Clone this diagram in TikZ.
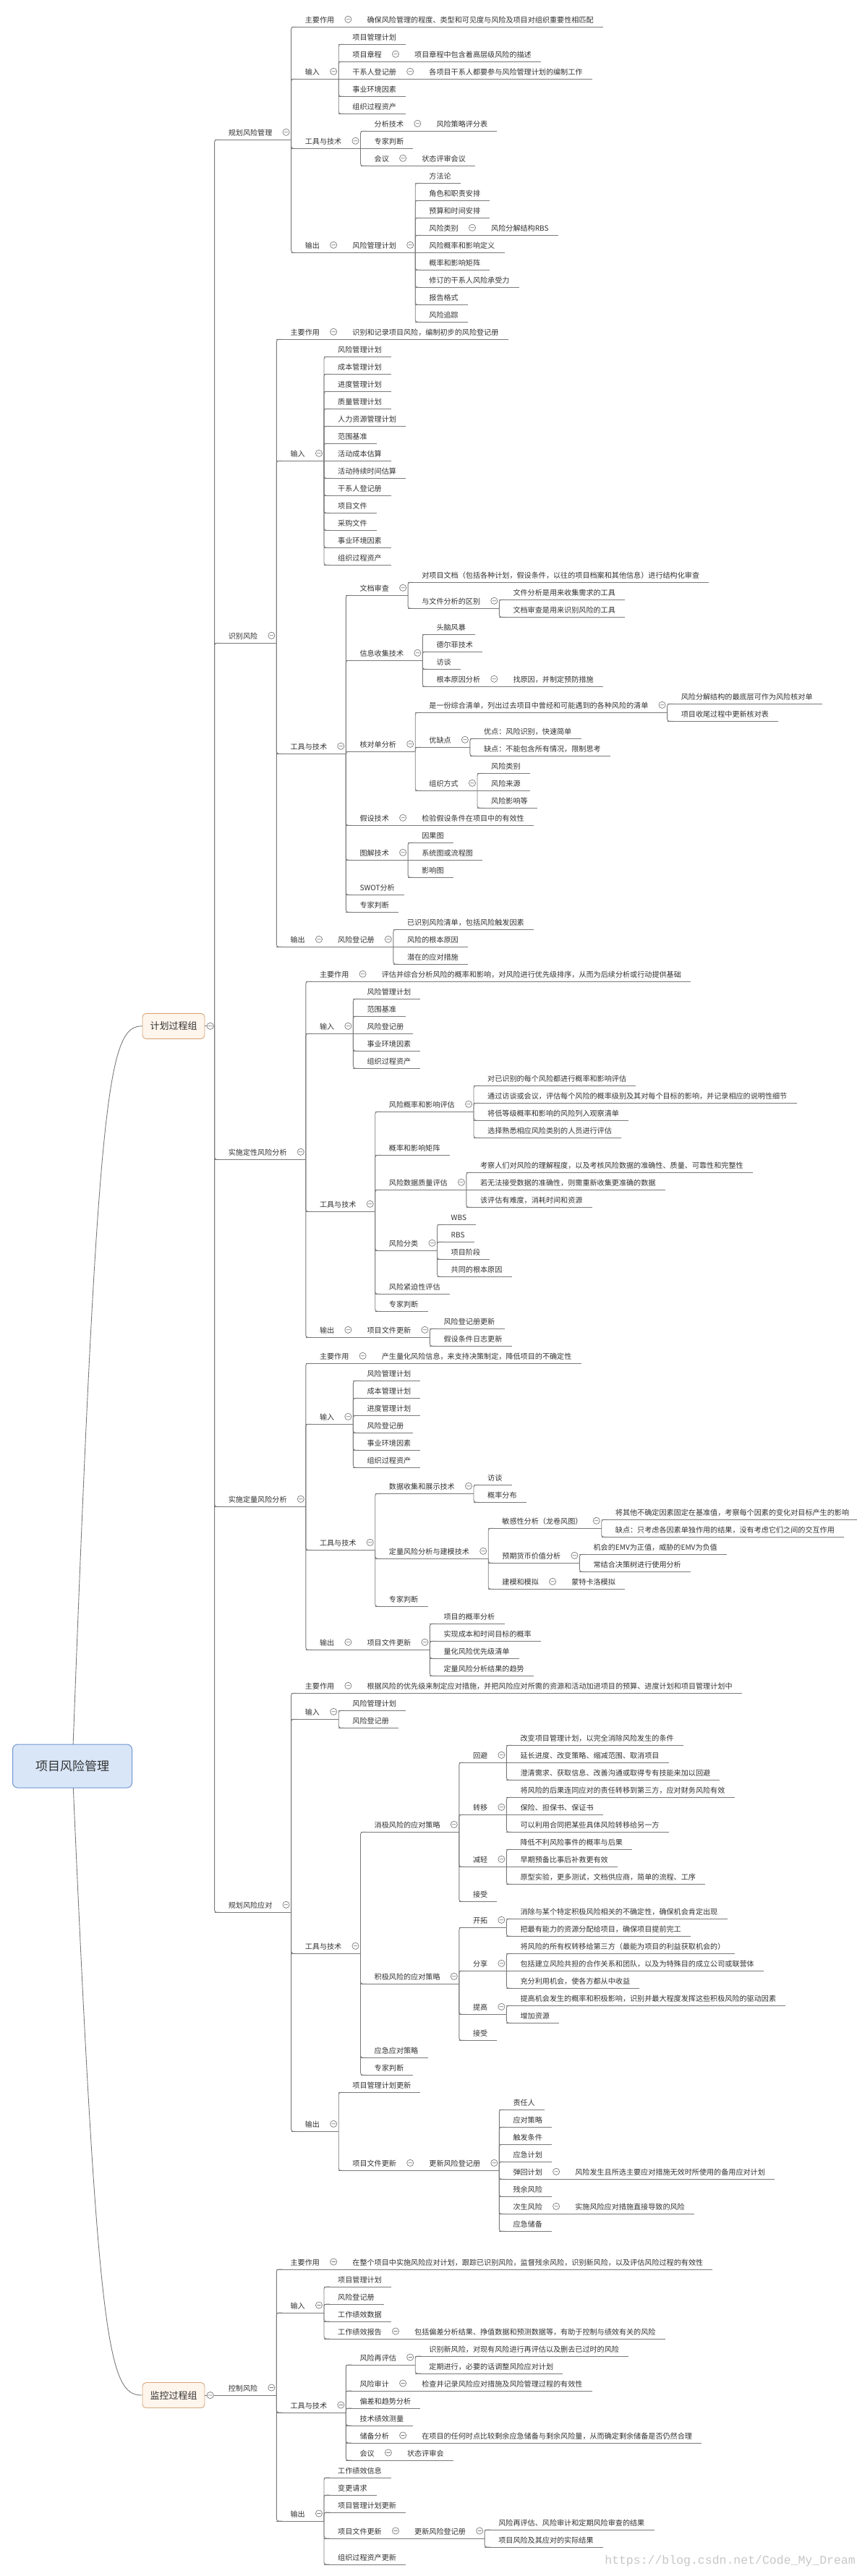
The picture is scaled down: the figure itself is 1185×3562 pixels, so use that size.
\documentclass[tikz,border=0pt]{standalone}
\usepackage{fontspec}
\setmainfont{Noto Sans CJK SC}
\newfontfamily\wmfont{Liberation Mono}
\definecolor{lc}{HTML}{7A7A7A}
\definecolor{tc}{HTML}{333333}
\definecolor{rootfill}{HTML}{D9E6F8}
\definecolor{rootdraw}{HTML}{6F95D0}
\definecolor{grpfill}{HTML}{FEF5EC}
\definecolor{grpdraw}{HTML}{D9A77A}
\tikzset{
  txt/.style={inner sep=0pt,anchor=base west,text=tc,font=\fontsize{10.1pt}{12pt}\selectfont},
  ln/.style={draw=lc,line width=0.9pt},
  circ/.style={draw=lc,fill=white,line width=0.7pt},
  grp/.style={draw=grpdraw,fill=grpfill,rounded corners=5pt,line width=0.9pt,minimum width=86pt,minimum height=35pt,inner sep=0pt,text=tc,font=\fontsize{13pt}{15pt}\selectfont},
  rootbox/.style={draw=rootdraw,fill=rootfill,rounded corners=7pt,line width=1pt,minimum width=165pt,minimum height=60pt,inner sep=0pt,text=tc,font=\fontsize{17pt}{20pt}\selectfont}
}
\newcommand\nd[5]{%
  \pgfmathsetmacro\myU{\ybase+24*(#4)}%
  \expandafter\xdef\csname U@#2\endcsname{\myU}%
  \coordinate (#2-l) at (#3-r |- 0,\myU);
  \node[txt] (#2) at ([shift={(19,-6)}]#2-l) {#5};
  \if p#1
    \path (#2.east |- #2-l) ++(26,0) coordinate (#2-r);
  \else
    \path (#2.east |- #2-l) ++(13,0) coordinate (#2-r);
  \fi
  \draw[ln] (#2-l) -- (#2-r);
  \ifdim\csname U@#3\endcsname pt=\myU pt\relax\else
    \draw[ln,rounded corners=3pt] (#3-r) |- ([xshift=8pt]#2-l);
  \fi
  \if p#1
    \draw[circ] ([shift={(-7,-10.5)}]#2-r) circle[radius=4.6pt] +(-2.6pt,0pt) -- +(2.6pt,0pt);
  \fi
}
\newcommand\grpminus[1]{\draw[circ] (#1) circle[radius=4.6pt] +(-2.6pt,0pt) -- +(2.6pt,0pt);}
\begin{document}
\begin{tikzpicture}[x=1pt,y=-1pt]
\fill[white] (0,0) rectangle (1185,3562);
\useasboundingbox (0,0) rectangle (1185,3562);

% group boxes and root
\node[grp] (gA) at (240,1418.8) {计划过程组};
\node[grp] (gB) at (240,3312) {监控过程组};
\coordinate (grpA-r) at (296.6,1418.8);
\coordinate (grpB-r) at (296.6,3312);
\expandafter\gdef\csname U@grpA\endcsname{1418.8}
\expandafter\gdef\csname U@grpB\endcsname{3312.0}
\draw[ln] (gA.east) -- (grpA-r);
\draw[ln] (gB.east) -- (grpB-r);
\coordinate (rootc) at (100,2442);
\draw[ln] (rootc) .. controls (135,1500) and (150,1418.8) .. (gA.west);
\draw[ln] (rootc) .. controls (135,3250) and (150,3312) .. (gB.west);
\node[rootbox] (root) at (rootc) {项目风险管理};
\grpminus{290.7,1418.8}
\grpminus{290.7,3312}

\def\ybase{37.3}
% ---------- 规划风险管理
\nd{p}{a1}{grpA}{6.5}{规划风险管理}
\nd{p}{a1m}{a1}{0}{主要作用}
\nd{l}{a1m1}{a1m}{0}{确保风险管理的程度、类型和可见度与风险及项目对组织重要性相匹配}
\nd{p}{a1i}{a1}{3}{输入}
\nd{l}{a1i1}{a1i}{1}{项目管理计划}
\nd{p}{a1i2}{a1i}{2}{项目章程}
\nd{l}{a1i2a}{a1i2}{2}{项目章程中包含着高层级风险的描述}
\nd{p}{a1i3}{a1i}{3}{干系人登记册}
\nd{l}{a1i3a}{a1i3}{3}{各项目干系人都要参与风险管理计划的编制工作}
\nd{l}{a1i4}{a1i}{4}{事业环境因素}
\nd{l}{a1i5}{a1i}{5}{组织过程资产}
\nd{p}{a1t}{a1}{7}{工具与技术}
\nd{p}{a1t1}{a1t}{6}{分析技术}
\nd{l}{a1t1a}{a1t1}{6}{风险策略评分表}
\nd{l}{a1t2}{a1t}{7}{专家判断}
\nd{p}{a1t3}{a1t}{8}{会议}
\nd{l}{a1t3a}{a1t3}{8}{状态评审会议}
\nd{p}{a1o}{a1}{13}{输出}
\nd{p}{a1o1}{a1o}{13}{风险管理计划}
\nd{l}{a1o1a}{a1o1}{9}{方法论}
\nd{l}{a1o1b}{a1o1}{10}{角色和职责安排}
\nd{l}{a1o1c}{a1o1}{11}{预算和时间安排}
\nd{p}{a1o1d}{a1o1}{12}{风险类别}
\nd{l}{a1o1dd}{a1o1d}{12}{风险分解结构RBS}
\nd{l}{a1o1e}{a1o1}{13}{风险概率和影响定义}
\nd{l}{a1o1f}{a1o1}{14}{概率和影响矩阵}
\nd{l}{a1o1g}{a1o1}{15}{修订的干系人风险承受力}
\nd{l}{a1o1h}{a1o1}{16}{报告格式}
\nd{l}{a1o1i}{a1o1}{17}{风险追踪}
% ---------- 识别风险
\nd{p}{a2}{grpA}{35.5}{识别风险}
\nd{p}{a2m}{a2}{18}{主要作用}
\nd{l}{a2m1}{a2m}{18}{识别和记录项目风险，编制初步的风险登记册}
\nd{p}{a2i}{a2}{25}{输入}
\nd{l}{a2i1}{a2i}{19}{风险管理计划}
\nd{l}{a2i2}{a2i}{20}{成本管理计划}
\nd{l}{a2i3}{a2i}{21}{进度管理计划}
\nd{l}{a2i4}{a2i}{22}{质量管理计划}
\nd{l}{a2i5}{a2i}{23}{人力资源管理计划}
\nd{l}{a2i6}{a2i}{24}{范围基准}
\nd{l}{a2i7}{a2i}{25}{活动成本估算}
\nd{l}{a2i8}{a2i}{26}{活动持续时间估算}
\nd{l}{a2i9}{a2i}{27}{干系人登记册}
\nd{l}{a2i10}{a2i}{28}{项目文件}
\nd{l}{a2i11}{a2i}{29}{采购文件}
\nd{l}{a2i12}{a2i}{30}{事业环境因素}
\nd{l}{a2i13}{a2i}{31}{组织过程资产}
\nd{p}{a2t}{a2}{41.875}{工具与技术}
\nd{p}{a2t1}{a2t}{32.75}{文档审查}
\nd{l}{a2t1a}{a2t1}{32}{对项目文档（包括各种计划，假设条件，以往的项目档案和其他信息）进行结构化审查}
\nd{p}{a2t1b}{a2t1}{33.5}{与文件分析的区别}
\nd{l}{a2t1b1}{a2t1b}{33}{文件分析是用来收集需求的工具}
\nd{l}{a2t1b2}{a2t1b}{34}{文档审查是用来识别风险的工具}
\nd{p}{a2t2}{a2t}{36.5}{信息收集技术}
\nd{l}{a2t2a}{a2t2}{35}{头脑风暴}
\nd{l}{a2t2b}{a2t2}{36}{德尔菲技术}
\nd{l}{a2t2c}{a2t2}{37}{访谈}
\nd{p}{a2t2d}{a2t2}{38}{根本原因分析}
\nd{l}{a2t2dd}{a2t2d}{38}{找原因，并制定预防措施}
\nd{p}{a2t3}{a2t}{41.75}{核对单分析}
\nd{p}{a2t3a}{a2t3}{39.5}{是一份综合清单，列出过去项目中曾经和可能遇到的各种风险的清单}
\nd{l}{a2t3a1}{a2t3a}{39}{风险分解结构的最底层可作为风险核对单}
\nd{l}{a2t3a2}{a2t3a}{40}{项目收尾过程中更新核对表}
\nd{p}{a2t3b}{a2t3}{41.5}{优缺点}
\nd{l}{a2t3b1}{a2t3b}{41}{优点：风险识别，快速简单}
\nd{l}{a2t3b2}{a2t3b}{42}{缺点：不能包含所有情况，限制思考}
\nd{p}{a2t3c}{a2t3}{44}{组织方式}
\nd{l}{a2t3c1}{a2t3c}{43}{风险类别}
\nd{l}{a2t3c2}{a2t3c}{44}{风险来源}
\nd{l}{a2t3c3}{a2t3c}{45}{风险影响等}
\nd{p}{a2t4}{a2t}{46}{假设技术}
\nd{l}{a2t4a}{a2t4}{46}{检验假设条件在项目中的有效性}
\nd{p}{a2t5}{a2t}{48}{图解技术}
\nd{l}{a2t5a}{a2t5}{47}{因果图}
\nd{l}{a2t5b}{a2t5}{48}{系统图或流程图}
\nd{l}{a2t5c}{a2t5}{49}{影响图}
\nd{l}{a2t6}{a2t}{50}{SWOT分析}
\nd{l}{a2t7}{a2t}{51}{专家判断}
\nd{p}{a2o}{a2}{53}{输出}
\nd{p}{a2o1}{a2o}{53}{风险登记册}
\nd{l}{a2o1a}{a2o1}{52}{已识别风险清单，包括风险触发因素}
\nd{l}{a2o1b}{a2o1}{53}{风险的根本原因}
\nd{l}{a2o1c}{a2o1}{54}{潜在的应对措施}
% ---------- 实施定性风险分析
\nd{p}{a3}{grpA}{65.25}{实施定性风险分析}
\nd{p}{a3m}{a3}{55}{主要作用}
\nd{l}{a3m1}{a3m}{55}{评估并综合分析风险的概率和影响，对风险进行优先级排序，从而为后续分析或行动提供基础}
\nd{p}{a3i}{a3}{58}{输入}
\nd{l}{a3i1}{a3i}{56}{风险管理计划}
\nd{l}{a3i2}{a3i}{57}{范围基准}
\nd{l}{a3i3}{a3i}{58}{风险登记册}
\nd{l}{a3i4}{a3i}{59}{事业环境因素}
\nd{l}{a3i5}{a3i}{60}{组织过程资产}
\nd{p}{a3t}{a3}{68.25}{工具与技术}
\nd{p}{a3t1}{a3t}{62.5}{风险概率和影响评估}
\nd{l}{a3t1a}{a3t1}{61}{对已识别的每个风险都进行概率和影响评估}
\nd{l}{a3t1b}{a3t1}{62}{通过访谈或会议，评估每个风险的概率级别及其对每个目标的影响，并记录相应的说明性细节}
\nd{l}{a3t1c}{a3t1}{63}{将低等级概率和影响的风险列入观察清单}
\nd{l}{a3t1d}{a3t1}{64}{选择熟悉相应风险类别的人员进行评估}
\nd{l}{a3t2}{a3t}{65}{概率和影响矩阵}
\nd{p}{a3t3}{a3t}{67}{风险数据质量评估}
\nd{l}{a3t3a}{a3t3}{66}{考察人们对风险的理解程度，以及考核风险数据的准确性、质量、可靠性和完整性}
\nd{l}{a3t3b}{a3t3}{67}{若无法接受数据的准确性，则需重新收集更准确的数据}
\nd{l}{a3t3c}{a3t3}{68}{该评估有难度，消耗时间和资源}
\nd{p}{a3t4}{a3t}{70.5}{风险分类}
\nd{l}{a3t4a}{a3t4}{69}{WBS}
\nd{l}{a3t4b}{a3t4}{70}{RBS}
\nd{l}{a3t4c}{a3t4}{71}{项目阶段}
\nd{l}{a3t4d}{a3t4}{72}{共同的根本原因}
\nd{l}{a3t5}{a3t}{73}{风险紧迫性评估}
\nd{l}{a3t6}{a3t}{74}{专家判断}
\nd{p}{a3o}{a3}{75.5}{输出}
\nd{p}{a3o1}{a3o}{75.5}{项目文件更新}
\nd{l}{a3o1a}{a3o1}{75}{风险登记册更新}
\nd{l}{a3o1b}{a3o1}{76}{假设条件日志更新}
% ---------- 实施定量风险分析
\nd{p}{a4}{grpA}{85.25}{实施定量风险分析}
\nd{p}{a4m}{a4}{77}{主要作用}
\nd{l}{a4m1}{a4m}{77}{产生量化风险信息，来支持决策制定，降低项目的不确定性}
\nd{p}{a4i}{a4}{80.5}{输入}
\nd{l}{a4i1}{a4i}{78}{风险管理计划}
\nd{l}{a4i2}{a4i}{79}{成本管理计划}
\nd{l}{a4i3}{a4i}{80}{进度管理计划}
\nd{l}{a4i4}{a4i}{81}{风险登记册}
\nd{l}{a4i5}{a4i}{82}{事业环境因素}
\nd{l}{a4i6}{a4i}{83}{组织过程资产}
\nd{p}{a4t}{a4}{87.75}{工具与技术}
\nd{p}{a4t1}{a4t}{84.5}{数据收集和展示技术}
\nd{l}{a4t1a}{a4t1}{84}{访谈}
\nd{l}{a4t1b}{a4t1}{85}{概率分布}
\nd{p}{a4t2}{a4t}{88.25}{定量风险分析与建模技术}
\nd{p}{a4t2a}{a4t2}{86.5}{敏感性分析（龙卷风图）}
\nd{l}{a4t2a1}{a4t2a}{86}{将其他不确定因素固定在基准值，考察每个因素的变化对目标产生的影响}
\nd{l}{a4t2a2}{a4t2a}{87}{缺点：只考虑各因素单独作用的结果，没有考虑它们之间的交互作用}
\nd{p}{a4t2b}{a4t2}{88.5}{预期货币价值分析}
\nd{l}{a4t2b1}{a4t2b}{88}{机会的EMV为正值，威胁的EMV为负值}
\nd{l}{a4t2b2}{a4t2b}{89}{常结合决策树进行使用分析}
\nd{p}{a4t2c}{a4t2}{90}{建模和模拟}
\nd{l}{a4t2c1}{a4t2c}{90}{蒙特卡洛模拟}
\nd{l}{a4t3}{a4t}{91}{专家判断}
\nd{p}{a4o}{a4}{93.5}{输出}
\nd{p}{a4o1}{a4o}{93.5}{项目文件更新}
\nd{l}{a4o1a}{a4o1}{92}{项目的概率分析}
\nd{l}{a4o1b}{a4o1}{93}{实现成本和时间目标的概率}
\nd{l}{a4o1c}{a4o1}{94}{量化风险优先级清单}
\nd{l}{a4o1d}{a4o1}{95}{定量风险分析结果的趋势}
% ---------- 规划风险应对
\nd{p}{a5}{grpA}{108.625}{规划风险应对}
\nd{p}{a5m}{a5}{96}{主要作用}
\nd{l}{a5m1}{a5m}{96}{根据风险的优先级来制定应对措施，并把风险应对所需的资源和活动加进项目的预算、进度计划和项目管理计划中}
\nd{p}{a5i}{a5}{97.5}{输入}
\nd{l}{a5i1}{a5i}{97}{风险管理计划}
\nd{l}{a5i2}{a5i}{98}{风险登记册}
\nd{p}{a5t}{a5}{111}{工具与技术}
\nd{p}{a5t1}{a5t}{104}{消极风险的应对策略}
\nd{p}{a5t1a}{a5t1}{100}{回避}
\nd{l}{a5t1a1}{a5t1a}{99}{改变项目管理计划，以完全消除风险发生的条件}
\nd{l}{a5t1a2}{a5t1a}{100}{延长进度、改变策略、缩减范围、取消项目}
\nd{l}{a5t1a3}{a5t1a}{101}{澄清需求、获取信息、改善沟通或取得专有技能来加以回避}
\nd{p}{a5t1b}{a5t1}{103}{转移}
\nd{l}{a5t1b1}{a5t1b}{102}{将风险的后果连同应对的责任转移到第三方，应对财务风险有效}
\nd{l}{a5t1b2}{a5t1b}{103}{保险、担保书、保证书}
\nd{l}{a5t1b3}{a5t1b}{104}{可以利用合同把某些具体风险转移给另一方}
\nd{p}{a5t1c}{a5t1}{106}{减轻}
\nd{l}{a5t1c1}{a5t1c}{105}{降低不利风险事件的概率与后果}
\nd{l}{a5t1c2}{a5t1c}{106}{早期预备比事后补救更有效}
\nd{l}{a5t1c3}{a5t1c}{107}{原型实验，更多测试，文档供应商，简单的流程、工序}
\nd{l}{a5t1d}{a5t1}{108}{接受}
\nd{p}{a5t2}{a5t}{112.75}{积极风险的应对策略}
\nd{p}{a5t2a}{a5t2}{109.5}{开拓}
\nd{l}{a5t2a1}{a5t2a}{109}{消除与某个特定积极风险相关的不确定性，确保机会肯定出现}
\nd{l}{a5t2a2}{a5t2a}{110}{把最有能力的资源分配给项目，确保项目提前完工}
\nd{p}{a5t2b}{a5t2}{112}{分享}
\nd{l}{a5t2b1}{a5t2b}{111}{将风险的所有权转移给第三方（最能为项目的利益获取机会的）}
\nd{l}{a5t2b2}{a5t2b}{112}{包括建立风险共担的合作关系和团队，以及为特殊目的成立公司或联营体}
\nd{l}{a5t2b3}{a5t2b}{113}{充分利用机会，使各方都从中收益}
\nd{p}{a5t2c}{a5t2}{114.5}{提高}
\nd{l}{a5t2c1}{a5t2c}{114}{提高机会发生的概率和积极影响，识别并最大程度发挥这些积极风险的驱动因素}
\nd{l}{a5t2c2}{a5t2c}{115}{增加资源}
\nd{l}{a5t2d}{a5t2}{116}{接受}
\nd{l}{a5t3}{a5t}{117}{应急应对策略}
\nd{l}{a5t4}{a5t}{118}{专家判断}
\nd{p}{a5o}{a5}{121.25}{输出}
\nd{l}{a5o1}{a5o}{119}{项目管理计划更新}
\nd{p}{a5o2}{a5o}{123.5}{项目文件更新}
\nd{p}{a5o2a}{a5o2}{123.5}{更新风险登记册}
\nd{l}{a5o2a1}{a5o2a}{120}{责任人}
\nd{l}{a5o2a2}{a5o2a}{121}{应对策略}
\nd{l}{a5o2a3}{a5o2a}{122}{触发条件}
\nd{l}{a5o2a4}{a5o2a}{123}{应急计划}
\nd{p}{a5o2a5}{a5o2a}{124}{弹回计划}
\nd{l}{a5o2a5x}{a5o2a5}{124}{风险发生且所选主要应对措施无效时所使用的备用应对计划}
\nd{l}{a5o2a6}{a5o2a}{125}{残余风险}
\nd{p}{a5o2a7}{a5o2a}{126}{次生风险}
\nd{l}{a5o2a7x}{a5o2a7}{126}{实施风险应对措施直接导致的风险}
\nd{l}{a5o2a8}{a5o2a}{127}{应急储备}

% ---------- 控制风险
\def\ybase{3138}
\nd{p}{b1}{grpB}{7.25}{控制风险}
\nd{p}{b1m}{b1}{0}{主要作用}
\nd{l}{b1m1}{b1m}{0}{在整个项目中实施风险应对计划，跟踪已识别风险，监督残余风险，识别新风险，以及评估风险过程的有效性}
\nd{p}{b1i}{b1}{2.5}{输入}
\nd{l}{b1i1}{b1i}{1}{项目管理计划}
\nd{l}{b1i2}{b1i}{2}{风险登记册}
\nd{l}{b1i3}{b1i}{3}{工作绩效数据}
\nd{p}{b1i4}{b1i}{4}{工作绩效报告}
\nd{l}{b1i4a}{b1i4}{4}{包括偏差分析结果、挣值数据和预测数据等，有助于控制与绩效有关的风险}
\nd{p}{b1t}{b1}{8.25}{工具与技术}
\nd{p}{b1t1}{b1t}{5.5}{风险再评估}
\nd{l}{b1t1a}{b1t1}{5}{识别新风险，对现有风险进行再评估以及删去已过时的风险}
\nd{l}{b1t1b}{b1t1}{6}{定期进行，必要的话调整风险应对计划}
\nd{p}{b1t2}{b1t}{7}{风险审计}
\nd{l}{b1t2a}{b1t2}{7}{检查并记录风险应对措施及风险管理过程的有效性}
\nd{l}{b1t3}{b1t}{8}{偏差和趋势分析}
\nd{l}{b1t4}{b1t}{9}{技术绩效测量}
\nd{p}{b1t5}{b1t}{10}{储备分析}
\nd{l}{b1t5a}{b1t5}{10}{在项目的任何时点比较剩余应急储备与剩余风险量，从而确定剩余储备是否仍然合理}
\nd{p}{b1t6}{b1t}{11}{会议}
\nd{l}{b1t6a}{b1t6}{11}{状态评审会}
\nd{p}{b1o}{b1}{14.5}{输出}
\nd{l}{b1o1}{b1o}{12}{工作绩效信息}
\nd{l}{b1o2}{b1o}{13}{变更请求}
\nd{l}{b1o3}{b1o}{14}{项目管理计划更新}
\nd{p}{b1o4}{b1o}{15.5}{项目文件更新}
\nd{p}{b1o4a}{b1o4}{15.5}{更新风险登记册}
\nd{l}{b1o4a1}{b1o4a}{15}{风险再评估、风险审计和定期风险审查的结果}
\nd{l}{b1o4a2}{b1o4a}{16}{项目风险及其应对的实际结果}
\nd{l}{b1o5}{b1o}{17}{组织过程资产更新}

% watermark
\node[anchor=east,inner sep=0pt,text=black!22,font=\wmfont\fontsize{16.5pt}{18pt}\selectfont] (wm) at (1183,3541) {https://blog.csdn.net/Code\_My\_Dream};
\end{tikzpicture}
\end{document}
